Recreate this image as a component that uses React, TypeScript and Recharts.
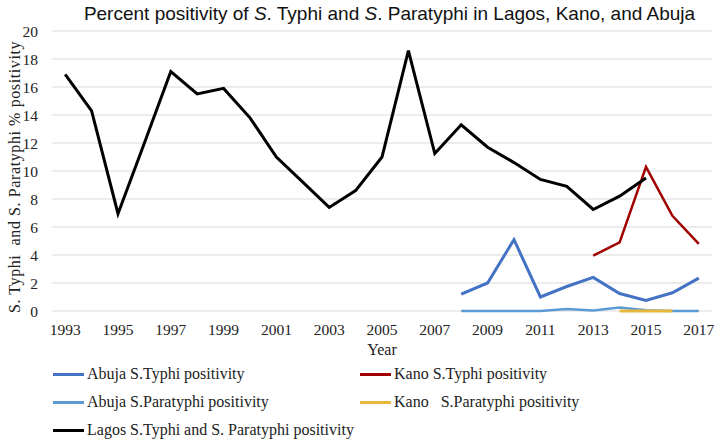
import { CartesianGrid, Line, LineChart, XAxis, YAxis } from "recharts";

// Years on the x axis
const years = [
  1993, 1994, 1995, 1996, 1997, 1998, 1999, 2000, 2001, 2002, 2003, 2004, 2005,
  2006, 2007, 2008, 2009, 2010, 2011, 2012, 2013, 2014, 2015, 2016, 2017,
];

// Percent positivity per series, null where the series has no value
const lagos = [
  16.9, 14.3, 6.95, 12.0, 17.1, 15.5, 15.9, 13.8, 11.0, 9.2, 7.4, 8.6, 11.0,
  18.6, 11.25, 13.3, 11.7, 10.6, 9.4, 8.9, 7.25, 8.2, 9.5, null, null,
];
const kanoTyphi = [
  null, null, null, null, null, null, null, null, null, null, null, null, null,
  null, null, null, null, null, null, null, 3.95, 4.9, 10.3, 6.8, 4.8,
];
const abujaTyphi = [
  null, null, null, null, null, null, null, null, null, null, null, null, null,
  null, null, 1.2, 2.0, 5.1, 1.0, 1.75, 2.4, 1.25, 0.75, 1.3, 2.35,
];
const abujaParatyphi = [
  null, null, null, null, null, null, null, null, null, null, null, null, null,
  null, null, 0, 0, 0, 0, 0.15, 0.03, 0.25, 0.05, 0, 0,
];
const kanoParatyphi = [
  null, null, null, null, null, null, null, null, null, null, null, null, null,
  null, null, null, null, null, null, null, null, 0, 0, 0, null,
];

const xTicks = [1993, 1995, 1997, 1999, 2001, 2003, 2005, 2007, 2009, 2011, 2013, 2015, 2017];
const yTicks = [0, 2, 4, 6, 8, 10, 12, 14, 16, 18, 20];

const series = [
  { key: "abujaTyphi", name: "Abuja S.Typhi positivity", color: "#4472C4", width: 3 },
  { key: "kanoTyphi", name: "Kano S.Typhi positivity", color: "#A00000", width: 2.5 },
  { key: "abujaParatyphi", name: "Abuja S.Paratyphi positivity", color: "#5B9BD5", width: 2.5 },
  { key: "kanoParatyphi", name: "Kano   S.Paratyphi positivity", color: "#E8B83C", width: 3 },
  { key: "lagos", name: "Lagos S.Typhi and S. Paratyphi positivity", color: "#000000", width: 3 },
];

const data = years.map((year, i) => ({
  year,
  lagos: lagos[i],
  kanoTyphi: kanoTyphi[i],
  abujaTyphi: abujaTyphi[i],
  abujaParatyphi: abujaParatyphi[i],
  kanoParatyphi: kanoParatyphi[i],
}));

const serif = "'Liberation Serif', 'Times New Roman', serif";

// legend slots: [left, middle] of each entry
const legendPos: Record<string, [number, number]> = {
  abujaTyphi: [53, 374],
  kanoTyphi: [360, 374],
  abujaParatyphi: [53, 402],
  kanoParatyphi: [360, 402],
  lagos: [53, 430],
};

export default function App() {
  return (
    <div
      style={{
        position: "absolute",
        left: 0,
        top: 0,
        width: 717,
        height: 440,
        background: "#fff",
        fontFamily: serif,
      }}
    >
      <style>{`svg text { font-family: 'Liberation Serif', serif !important; }`}</style>
      <div
        style={{
          position: "absolute",
          left: 0,
          width: 717,
          paddingLeft: 62,
          boxSizing: "border-box",
          textAlign: "center",
          top: 3,
          fontFamily: "'Liberation Sans', Arial, sans-serif",
          fontSize: 19,
          color: "#111",
          whiteSpace: "nowrap",
        }}
      >
        Percent positivity of <i>S</i>. Typhi and <i>S</i>. Paratyphi in Lagos, Kano, and Abuja
      </div>

      <LineChart
        width={717}
        height={440}
        data={data}
        margin={{ top: 31, right: 5, left: 0, bottom: 0 }}
      >
        <CartesianGrid vertical={false} stroke="#d9d9d9" strokeWidth={1.2} />
        <XAxis
          dataKey="year"
          type="number"
          domain={[1992.5, 2017.5]}
          ticks={xTicks}
          height={129}
          axisLine={false}
          tickLine={false}
          tickSize={0}
          tickMargin={13}
          interval={0}
          tick={{ fontSize: 15.5, fill: "#222" }}
          label={{
            value: "Year",
            position: "insideTop",
            offset: 33,
            style: { fontSize: 16, fill: "#222" },
          }}
        />
        <YAxis
          width={52}
          domain={[0, 20]}
          ticks={yTicks}
          axisLine={false}
          tickLine={false}
          tickSize={0}
          tickMargin={14}
          interval={0}
          tick={{ fontSize: 15.5, fill: "#222" }}
        />
        {series.map((s) => (
          <Line
            key={s.key}
            type="linear"
            dataKey={s.key}
            name={s.name}
            stroke={s.color}
            strokeWidth={s.width}
            dot={false}
            isAnimationActive={false}
          />
        ))}
      </LineChart>

      <div
        style={{
          position: "absolute",
          left: 15,
          top: 177,
          transform: "translate(-50%, -50%) rotate(-90deg)",
          fontSize: 16,
          letterSpacing: 0.6,
          color: "#222",
          whiteSpace: "pre",
        }}
      >
        S. Typhi  and S. Paratyphi % positivity
      </div>

      {series.map((s) => {
        const [left, mid] = legendPos[s.key];
        return (
          <div
            key={s.key}
            style={{
              position: "absolute",
              left,
              top: mid - 10,
              height: 20,
              display: "flex",
              alignItems: "center",
              fontSize: 16,
              color: "#222",
              whiteSpace: "pre",
            }}
          >
            <span
              style={{
                display: "inline-block",
                width: 31,
                height: 3,
                background: s.color,
                marginRight: 3,
              }}
            />
            {s.name}
          </div>
        );
      })}
    </div>
  );
}
